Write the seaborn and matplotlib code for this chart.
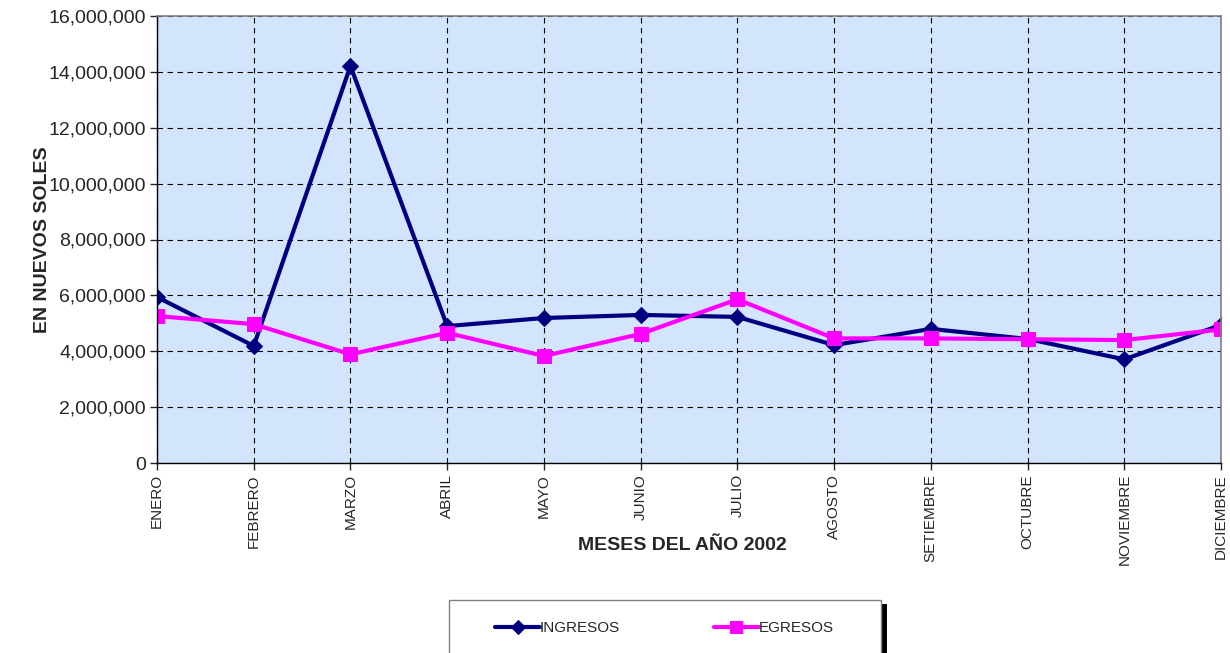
import matplotlib
matplotlib.use("Agg")
import matplotlib.pyplot as plt
import matplotlib.ticker as mticker
from matplotlib.patches import Rectangle
import seaborn as sns
import pandas as pd

meses = ["ENERO", "FEBRERO", "MARZO", "ABRIL", "MAYO", "JUNIO", "JULIO",
         "AGOSTO", "SETIEMBRE", "OCTUBRE", "NOVIEMBRE", "DICIEMBRE"]
ingresos = [5940000, 4190000, 14210000, 4900000, 5190000, 5300000, 5230000,
            4220000, 4800000, 4440000, 3710000, 4940000]
egresos = [5260000, 4970000, 3890000, 4660000, 3830000, 4620000, 5860000,
           4460000, 4460000, 4430000, 4400000, 4780000]
y_ticks = [0, 2000000, 4000000, 6000000, 8000000, 10000000, 12000000, 14000000, 16000000]

sns.set_style("white")
plt.rcParams['font.family'] = ['Liberation Sans', 'DejaVu Sans']

df = pd.DataFrame({"pos": list(range(len(meses))), "mes": meses,
                   "INGRESOS": ingresos, "EGRESOS": egresos})

fig = plt.figure(figsize=(12.3, 6.53), dpi=100)
ax = fig.add_axes([157/1230, 190/653, (1221-157)/1230, (463-16)/653])
ax.set_facecolor("#D3E5FD")

sns.lineplot(data=df, x="pos", y="INGRESOS", ax=ax, color="#000080", marker="D",
             markersize=8.5, linewidth=3, markeredgecolor="#000080", label="INGRESOS", legend=False)
sns.lineplot(data=df, x="pos", y="EGRESOS", ax=ax, color="#FF00FF", marker="s",
             markersize=10.5, linewidth=3, markeredgecolor="#FF00FF", label="EGRESOS", legend=False)

ax.set_xlim(0, len(meses) - 1)
ax.set_ylim(0, 16000000)
ax.set_xticks(range(len(meses)))
ax.set_xticklabels(meses, rotation=90, fontsize=11)
ax.set_yticks(y_ticks)
ax.yaxis.set_major_formatter(mticker.FuncFormatter(lambda v, p: f"{int(v):,}"))
ax.tick_params(axis="y", labelsize=14, length=5, width=1, direction="out", left=True, pad=3)
ax.tick_params(axis="x", length=5, width=1, direction="out", bottom=True, pad=3)
ax.grid(True, color="black", linestyle=(0, (5, 4)), linewidth=0.8)
ax.set_axisbelow(True)
for s in ["left", "bottom"]:
    ax.spines[s].set_color("black")
    ax.spines[s].set_linewidth(1)
for s in ["top", "right"]:
    ax.spines[s].set_color("#808080")
    ax.spines[s].set_linewidth(1.2)

ax.set_xlabel("MESES DEL AÑO 2002", fontsize=14, fontweight="bold")
ax.set_ylabel("EN NUEVOS SOLES", fontsize=14, fontweight="bold")
ax.xaxis.set_label_coords(0.4935, -0.1666)
ax.yaxis.set_label_coords(-0.100, 0.5)

# legend frame with shadow
shadow = Rectangle((455/1230, -10/653), 432/1230, 59/653, transform=fig.transFigure,
                   facecolor="black", edgecolor="none", zorder=0)
frame = Rectangle((449/1230, -10/653), 432/1230, 63/653, transform=fig.transFigure,
                  facecolor="white", edgecolor="#808080", linewidth=1, zorder=1)
fig.patches.append(shadow)
fig.patches.append(frame)
leg = fig.legend(handles=ax.get_lines()[:2], labels=["INGRESOS", "EGRESOS"],
                 loc="center left", bbox_to_anchor=(495/1230, 25/653),
                 ncol=2, fontsize=11, frameon=False, handlelength=2.95, handletextpad=0,
                 borderpad=0, markerscale=0.85, columnspacing=6.1, borderaxespad=0)
leg.set_zorder(3)

fig.savefig("out.png", dpi=100)
